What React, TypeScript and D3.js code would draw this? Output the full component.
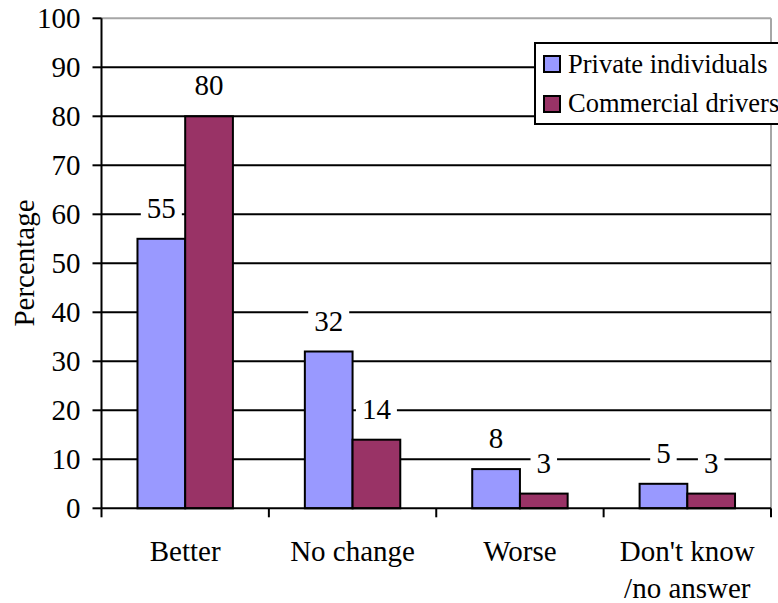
import React, { useEffect, useRef } from "react";
import { select, scaleLinear, scaleBand, range } from "d3";

const categories = ["Better", "No change", "Worse", "Don't know\n/no answer"];
const seriesNames = ["Private individuals", "Commercial drivers"];
const privateValues = [55, 32, 8, 5];
const commercialValues = [80, 14, 3, 3];
const yTicks = [0, 10, 20, 30, 40, 50, 60, 70, 80, 90, 100];
const colors = ["#9999ff", "#993366"];

const W = 778;
const H = 603;
const FONT = "Liberation Serif, Times New Roman, DejaVu Serif, serif";
const FS = 29;

export default function App() {
  const svgRef = useRef<SVGSVGElement>(null);

  useEffect(() => {
    const svg = select(svgRef.current);
    svg.selectAll("*").remove();

    const left = 101.5, right = 771, top = 18.3, bottom = 508.3;
    const y = scaleLinear().domain([0, 100]).range([bottom, top]);
    const x0 = scaleBand().domain(categories).range([left, right]).padding(0);
    const x1 = scaleBand()
      .domain(seriesNames)
      .range([0, x0.bandwidth()])
      .paddingInner(0)
      .paddingOuter(0.754);

    // plot border (gray top/right)
    svg.append("line").attr("x1", left).attr("x2", right).attr("y1", top).attr("y2", top)
      .attr("stroke", "#a6a6a6").attr("stroke-width", 2);
    svg.append("line").attr("x1", right).attr("x2", right).attr("y1", top).attr("y2", bottom)
      .attr("stroke", "#a6a6a6").attr("stroke-width", 2);

    // gridlines
    svg.selectAll(".grid")
      .data(yTicks.filter(t => t > 0 && t < 100))
      .join("line")
      .attr("class", "grid")
      .attr("x1", left).attr("x2", right)
      .attr("y1", d => y(d)).attr("y2", d => y(d))
      .attr("stroke", "#000").attr("stroke-width", 2);

    // y ticks + labels
    svg.selectAll(".ytick")
      .data(yTicks)
      .join("line")
      .attr("class", "ytick")
      .attr("x1", left - 9).attr("x2", left)
      .attr("y1", d => y(d)).attr("y2", d => y(d))
      .attr("stroke", "#000").attr("stroke-width", 2);
    svg.selectAll(".ylab")
      .data(yTicks)
      .join("text")
      .attr("class", "ylab")
      .attr("x", left - 21)
      .attr("y", d => y(d) + 9.5)
      .attr("text-anchor", "end")
      .attr("font-family", FONT)
      .attr("font-size", FS)
      .text(d => d);

    // bars
    const rows = categories.map((c, i) => ({ c, vals: [privateValues[i], commercialValues[i]] }));
    const g = svg.selectAll(".grp")
      .data(rows)
      .join("g")
      .attr("class", "grp")
      .attr("transform", d => `translate(${x0(d.c)},0)`);
    g.selectAll("rect")
      .data(d => d.vals.map((v, j) => ({ v, s: seriesNames[j], j })))
      .join("rect")
      .attr("x", d => x1(d.s)!)
      .attr("width", x1.bandwidth())
      .attr("y", d => y(d.v))
      .attr("height", d => y(0) - y(d.v))
      .attr("fill", d => colors[d.j])
      .attr("stroke", "#000")
      .attr("stroke-width", 2);

    // value labels with white background
    const dw = FS * 0.5;
    const lab = g.selectAll(".vlab")
      .data(d => d.vals.map((v, j) => ({ v, s: seriesNames[j], j })))
      .join("g")
      .attr("class", "vlab");
    lab.append("rect")
      .attr("x", d => x1(d.s)! + x1.bandwidth() / 2 - (String(d.v).length * dw) / 2 - 6)
      .attr("width", d => String(d.v).length * dw + 12)
      .attr("y", d => y(d.v) - 21 - 25)
      .attr("height", 31)
      .attr("fill", "#fff");
    lab.append("text")
      .attr("x", d => x1(d.s)! + x1.bandwidth() / 2)
      .attr("y", d => y(d.v) - 21)
      .attr("text-anchor", "middle")
      .attr("font-family", FONT)
      .attr("font-size", FS)
      .text(d => d.v);

    // x axis
    svg.append("line").attr("x1", left).attr("x2", right).attr("y1", bottom).attr("y2", bottom)
      .attr("stroke", "#000").attr("stroke-width", 2);
    svg.selectAll(".xtick")
      .data(range(categories.length + 1))
      .join("line")
      .attr("class", "xtick")
      .attr("x1", i => left + i * x0.step()).attr("x2", i => left + i * x0.step())
      .attr("y1", bottom).attr("y2", bottom + 9)
      .attr("stroke", "#000").attr("stroke-width", 2);
    svg.selectAll(".xlab")
      .data(categories)
      .join("text")
      .attr("class", "xlab")
      .attr("x", d => x0(d)! + x0.bandwidth() / 2)
      .attr("y", 561)
      .attr("text-anchor", "middle")
      .attr("font-family", FONT)
      .attr("font-size", FS)
      .each(function (d) {
        const t = select(this);
        d.split("\n").forEach((line, k) => {
          t.append("tspan")
            .attr("x", x0(d)! + x0.bandwidth() / 2)
            .attr("dy", k === 0 ? 0 : 37)
            .text(line);
        });
      });

    // y axis
    svg.append("line").attr("x1", left).attr("x2", left).attr("y1", top).attr("y2", bottom)
      .attr("stroke", "#000").attr("stroke-width", 2);

    // y title
    svg.append("text")
      .attr("transform", `translate(34,263) rotate(-90)`)
      .attr("text-anchor", "middle")
      .attr("font-family", FONT)
      .attr("font-size", FS)
      .text("Percentage");

    // legend
    const lg = svg.append("g").attr("transform", "translate(535,43)");
    lg.append("rect").attr("width", 270).attr("height", 81)
      .attr("fill", "#fff").attr("stroke", "#000").attr("stroke-width", 2);
    seriesNames.forEach((s, i) => {
      lg.append("rect")
        .attr("x", 9).attr("y", 13 + i * 40)
        .attr("width", 16).attr("height", 16)
        .attr("fill", colors[i]).attr("stroke", "#000").attr("stroke-width", 2);
      lg.append("text")
        .attr("x", 33).attr("y", 30 + i * 39)
        .attr("font-family", FONT)
        .attr("font-size", 26.5)
        .text(s);
    });
  }, []);

  return (
    <svg ref={svgRef} width={W} height={H}
      style={{ position: "absolute", left: 0, top: 0, background: "#fff" }} />
  );
}
